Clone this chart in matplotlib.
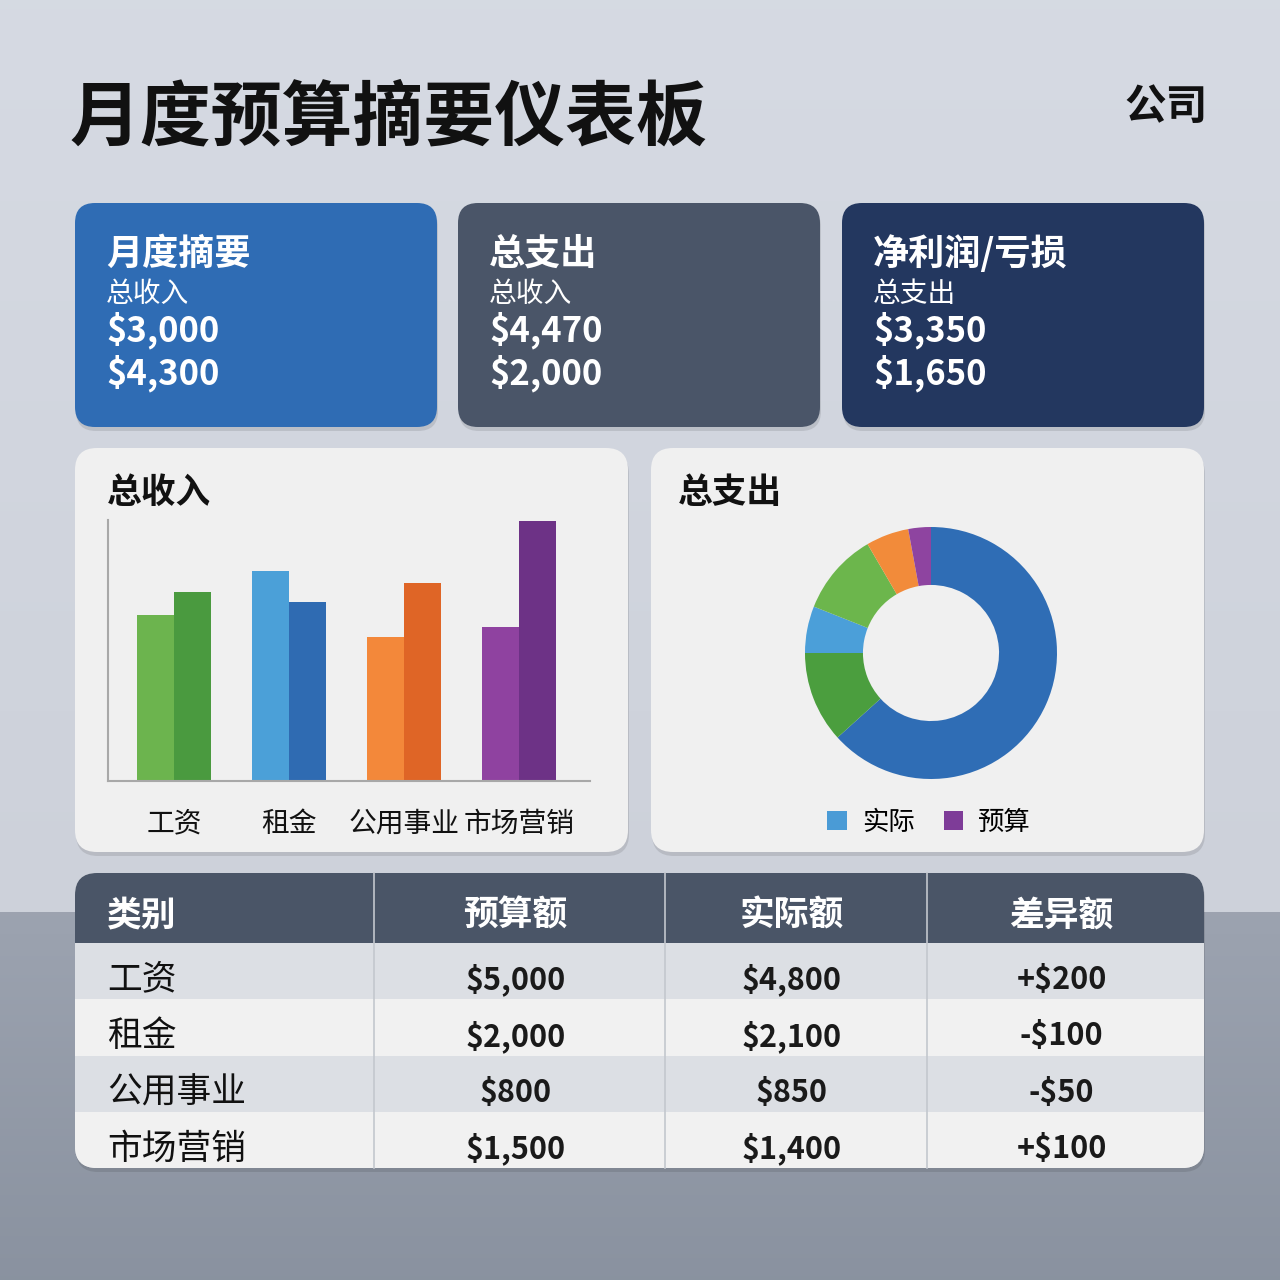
import numpy as np
import matplotlib
matplotlib.use("Agg")
import matplotlib.pyplot as plt
from matplotlib.patches import FancyBboxPatch, Rectangle, Patch

plt.rcParams['font.family'] = ['Noto Sans CJK SC', 'DejaVu Sans']

# ---------------------------------------------------------------- DATA
TITLE = "月度预算摘要仪表板"
COMPANY = "公司"

card_titles = ["月度摘要", "总支出", "净利润/亏损"]
card_subtitles = ["总收入", "总收入", "总支出"]
card_values = [[3000, 4300], [4470, 2000], [3350, 1650]]

bar_categories = ["工资", "租金", "公用事业", "市场营销"]
bar_light = [3190, 4040, 2770, 2960]
bar_dark = [3630, 3440, 3800, 5000]

donut_values = [63.3, 11.7, 6.0, 10.6, 5.5, 2.9]
legend_labels = ["实际", "预算"]

table_header = ["类别", "预算额", "实际额", "差异额"]
table_cats = ["工资", "租金", "公用事业", "市场营销"]
budget = [5000, 2000, 800, 1500]
actual = [4800, 2100, 850, 1400]

# ---------------------------------------------------------------- STYLE
W = H = 1280
card_colors = ["#2f6cb4", "#4a5568", "#23375f"]
bar_light_colors = ["#6cb44e", "#4ba0d8", "#f3883a", "#8f42a0"]
bar_dark_colors = ["#4a9a3f", "#2f6bb2", "#df6526", "#6d3286"]
donut_colors = ["#2f6db5", "#4b9e3e", "#4b9fd9", "#6cb64c", "#f28b3a", "#8e44a0"]
panel_color = "#f0f0f0"


def fig_rect(x0, y0, x1, y1):
    # pixel box (top-left origin) -> figure fraction
    return [x0 / W, 1 - y1 / H, (x1 - x0) / W, (y1 - y0) / H]


fig = plt.figure(figsize=(12.8, 12.8), dpi=100)
bg = fig.add_axes([0, 0, 1, 1])
bg.axis("off")

# background gradients
top = np.linspace([0.839, 0.855, 0.890], [0.804, 0.820, 0.855], 100).reshape(100, 1, 3)
bottom = np.linspace([0.612, 0.639, 0.690], [0.541, 0.573, 0.627], 100).reshape(100, 1, 3)
bg.imshow(top, extent=[0, W, 912, 0], aspect="auto", zorder=0)
bg.imshow(bottom, extent=[0, W, H, 912], aspect="auto", zorder=0)
bg.set_xlim(0, W)
bg.set_ylim(H, 0)


def rbox(x0, y0, x1, y1, color, r=20, z=1, shadow=True):
    if shadow:
        bg.add_patch(FancyBboxPatch((x0 + 1, y0 + 4), x1 - x0, y1 - y0,
                                    boxstyle=f"round,pad=0,rounding_size={r}",
                                    fc="#000000", ec="none", alpha=0.10, zorder=z - 0.5))
    p = FancyBboxPatch((x0, y0), x1 - x0, y1 - y0,
                       boxstyle=f"round,pad=0,rounding_size={r}",
                       fc=color, ec="none", zorder=z)
    bg.add_patch(p)
    return p


# title
bg.text(70, 118, TITLE, fontsize=51, fontweight="bold", color="#111111", va="center", ha="left")
bg.text(1208, 107, COMPANY, fontsize=30, fontweight="bold", color="#111111", va="center", ha="right")

# summary cards
card_x = [75, 458, 842]
for i in range(3):
    x0 = card_x[i]
    rbox(x0, 203, x0 + 362, 427, card_colors[i], r=20, z=2)
    bg.text(x0 + 31, 254, card_titles[i], fontsize=26, fontweight="bold", color="white", va="center", zorder=3)
    bg.text(x0 + 31, 294, card_subtitles[i], fontsize=20, color="white", va="center", zorder=3)
    for j, v in enumerate(card_values[i]):
        bg.text(x0 + 31, 330 + 43 * j, f"${v:,}", fontsize=25, fontweight="bold", color="white",
                va="center", zorder=3)

# panels
rbox(75, 448, 628, 852, panel_color, r=22, z=2)
rbox(651, 448, 1204, 852, panel_color, r=22, z=2)
bg.text(107, 492, "总收入", fontsize=25, fontweight="bold", color="#111111", va="center", zorder=3)
bg.text(678, 492, "总支出", fontsize=25, fontweight="bold", color="#111111", va="center", zorder=3)

# bar chart
ax = fig.add_axes(fig_rect(108, 520, 590, 781))
ax.patch.set_alpha(0)
xs = np.arange(len(bar_categories))
bw = 0.32
ax.bar(xs - bw / 2, bar_light, width=bw, color=bar_light_colors, zorder=2)
ax.bar(xs + bw / 2, bar_dark, width=bw, color=bar_dark_colors, zorder=2)
ax.set_xlim(-0.574, 3.617)
ax.set_ylim(0, 5020)
ax.set_xticks(xs)
ax.set_xticklabels(bar_categories, fontsize=20, color="#111111")
ax.tick_params(axis="x", length=0, pad=20)
ax.set_yticks([])
for s in ["top", "right"]:
    ax.spines[s].set_visible(False)
for s in ["left", "bottom"]:
    ax.spines[s].set_color("#a8a8a8")
    ax.spines[s].set_linewidth(1.5)

# donut
ax2 = fig.add_axes(fig_rect(805, 527, 1057, 779))
ax2.pie(donut_values, colors=donut_colors, startangle=90, counterclock=False, radius=1,
        wedgeprops=dict(width=0.46, linewidth=0))
ax2.set_xlim(-1, 1)
ax2.set_ylim(-1, 1)
ax2.set_aspect("equal")
handles = [Patch(fc="#4a9bd6"), Patch(fc="#7e3c98")]
fig.legend(handles, legend_labels, loc="center", bbox_to_anchor=(929 / W, 1 - 822 / H), ncol=2,
           frameon=False, fontsize=19, handlelength=0.75, handleheight=0.75, columnspacing=1.1,
           handletextpad=0.55)

# table
tx0, ty0, tx1, ty1 = 75, 873, 1204, 1168
clip = rbox(tx0, ty0, tx1, ty1, "#f0f0f0", r=22, z=2)
col_edges = [tx0, 374, 665, 927, tx1]
header_h = 70
row_h = (ty1 - ty0 - header_h) / len(table_cats)
hdr = Rectangle((tx0, ty0), tx1 - tx0, header_h, fc="#4a5567", ec="none", zorder=2.2)
bg.add_patch(hdr)
hdr.set_clip_path(clip)
for r in range(len(table_cats)):
    y = ty0 + header_h + r * row_h
    rc = "#dcdfe4" if r % 2 == 0 else "#f1f1f1"
    rect = Rectangle((tx0, y), tx1 - tx0, row_h, fc=rc, ec="none", zorder=2.2)
    bg.add_patch(rect)
    rect.set_clip_path(clip)
for xe in col_edges[1:-1]:
    bg.plot([xe, xe], [ty0, ty1], color="#c3c7ce", lw=1.2, zorder=2.5)

col_centers = [(col_edges[i] + col_edges[i + 1]) / 2 for i in range(4)]
for i, h in enumerate(table_header):
    if i == 0:
        bg.text(107, ty0 + header_h / 2 + 7, h, fontsize=25, fontweight="bold", color="white",
                va="center", ha="left", zorder=3)
    else:
        bg.text(col_centers[i] - 4, ty0 + header_h / 2 + 7, h, fontsize=25, fontweight="bold",
                color="white", va="center", ha="center", zorder=3)

for r in range(len(table_cats)):
    yc = ty0 + header_h + (r + 0.5) * row_h + 9
    diff = budget[r] - actual[r]
    diff_s = ("+" if diff > 0 else "-") + f"${abs(diff):,}"
    bg.text(107, yc, table_cats[r], fontsize=25, color="#111111", va="center", ha="left", zorder=3)
    for c, s in zip([1, 2, 3], [f"${budget[r]:,}", f"${actual[r]:,}", diff_s]):
        bg.text(col_centers[c] - 4, yc, s, fontsize=22, fontweight="bold", color="#1a1a1a",
                va="center", ha="center", zorder=3)

fig.savefig("out.png", dpi=100)
